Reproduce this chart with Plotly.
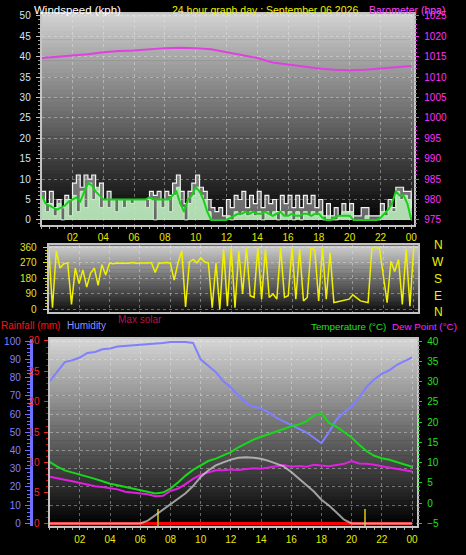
import plotly.graph_objects as go

W, H = 466, 555

# ---------------- data ----------------
hours_q = [i * 0.25 for i in range(97)]   # 15-minute samples, top & middle panels
hours_h = [i * 0.5 for i in range(49)]    # 30-minute samples, bottom panel
hours_1 = [float(i) for i in range(25)]   # hourly barometer

wind_gust = [7, 4, 7, 3, 5, 3, 6, 5,
             9, 11, 8, 11, 10, 11, 7, 9,
             5, 7, 5, 5, 5, 5, 5, 5,
             5, 5, 5, 5, 7, 6, 7, 5,
             7, 6, 9, 11, 7, 4, 7, 9,
             11, 8, 7, 5, 3, 2, 3, 1,
             5, 3, 6, 5, 7, 3, 6, 4,
             7, 3, 6, 4, 5, 2, 6, 4,
             6, 3, 6, 3, 6, 4, 6, 3,
             5, 1, 4, 1, 3, 1, 4, 2,
             4, 1, 1, 3, 3, 1, 1, 1,
             4, 2, 5, 3, 8, 8, 7, 7,
             3]

wind_speed = [5, 2, 4, 1, 4, 0, 5, 1,
              6, 2, 7, 3, 9, 5, 8, 3,
              5, 3, 5, 2, 5, 3, 5, 4,
              5, 5, 5, 3, 5, 0, 5, 3,
              5, 2, 6, 8, 3, 0, 4, 6,
              8, 6, 5, 2, 0, 0, 0, 0,
              1, 0, 2, 1, 2, 1, 2, 1,
              2, 0, 2, 1, 2, 0, 2, 1,
              2, 0, 2, 0, 2, 1, 2, 1,
              2, 0, 1, 0, 0, 1, 2, 2,
              2, 0, 0, 0, 1, 0, 0, 0,
              2, 1, 3, 2, 7, 5, 6, 5,
              0]

wind_avg = [6, 4, 3.5, 3, 2.5, 3, 3.5, 4.5,
            5, 5.5, 4.5, 7, 9, 8.5, 7, 6,
            5, 5, 5, 5, 5, 5, 5, 5,
            5, 5, 5, 5, 5.5, 5, 5, 5,
            5, 5, 6, 7, 4, 2, 5, 6,
            8, 7, 5, 2, 0, 0, 0, 0,
            0, 0.5, 1, 1.5, 1.5, 2, 1.5, 2,
            1.5, 1.5, 2, 1.5, 1, 1.5, 2, 1,
            1, 1.5, 1, 1, 1.5, 1.5, 1, 1.5,
            1.5, 0.5, 0, 0, 0.5, 1, 1, 1,
            1, 0, 0, 0, 0, 0, 0, 0,
            0.5, 1.5, 2.5, 4, 7, 6, 6, 4,
            0]

barometer = [1014.7, 1015.0, 1015.2, 1015.6, 1016.1, 1016.4, 1016.5, 1016.8,
             1017.1, 1017.2, 1017.1, 1016.8, 1016.1, 1015.3, 1014.7, 1013.6,
             1013.1, 1012.7, 1012.1, 1011.8, 1011.7, 1011.8, 1012.1, 1012.4,
             1012.7]

wind_dir = [360, 10, 340, 240, 265, 270, 30, 240,
            150, 230, 130, 210, 240, 140, 260, 200,
            270, 265, 270, 268, 270, 268, 272, 268,
            270, 268, 270, 272, 215, 268, 270, 272,
            268, 170, 270, 340, 15, 275, 290, 270,
            300, 275, 270, 10, 270, 0, 350, 20,
            360, 10, 340, 90, 360, 80, 70, 360,
            60, 350, 70, 90, 60, 360, 70, 80,
            360, 60, 350, 50, 70, 360, 340, 50,
            360, 60, 330, 40, 45, 50, 55, 60,
            85, 70, 50, 45, 40, 355, 360, 355,
            200, 40, 280, 220, 290, 30, 350, 20,
            360]

temperature = [10.2, 9.0, 8.1, 7.6, 7.1, 6.6, 6.0, 5.4,
               4.8, 4.4, 4.0, 3.7, 3.3, 2.9, 2.4, 2.6,
               3.6, 5.1, 6.8, 8.2, 9.4, 10.4, 11.0, 11.8,
               12.6, 13.8, 14.8, 15.7, 16.4, 17.0, 17.6, 18.3,
               19.0, 19.4, 20.2, 21.6, 22.2, 19.8, 18.9, 17.6,
               16.2, 14.4, 12.8, 11.7, 11.1, 10.7, 10.1, 9.5,
               9.0]

dew_point = [6.5, 6.2, 5.8, 5.4, 5.0, 4.6, 4.2, 4.0,
             3.7, 3.4, 2.8, 2.6, 2.4, 2.2, 1.7, 1.8,
             3.0, 3.6, 4.7, 6.0, 7.0, 7.6, 8.1, 8.1,
             8.3, 8.2, 8.4, 8.6, 8.5, 8.8, 9.0, 9.4,
             9.0, 9.2, 9.0, 9.5, 9.3, 9.1, 9.4, 9.7,
             10.4, 9.8, 9.7, 9.5, 9.1, 8.8, 8.5, 8.2,
             7.8]

humidity = [78, 83, 88.5, 89.5, 91, 93.5, 94, 95.5,
            96, 97, 97.3, 97.6, 98, 98.5, 98.8, 99,
            99.5, 99.5, 99.5, 99, 90, 86.5, 83, 78,
            74.5, 70, 66, 64, 63, 61, 58, 56,
            54, 52, 50, 47, 44, 50, 57, 61,
            64, 69, 75, 79, 82, 84, 87, 89,
            91]

max_solar = [0, 0, 0, 0, 0, 0, 0, 0,
             0, 0, 0, 0, 0, 15, 45, 80,
             110, 140, 165, 205, 255, 290, 318, 335,
             350, 360, 363, 360, 355, 343, 330, 313,
             282, 248, 210, 175, 130, 98, 60, 20,
             0, 0, 0, 0, 0, 0, 0, 0,
             0]

rainfall = [0, 0, 0, 0, 0, 0, 0, 0,
            0, 0, 0, 0, 0, 0, 0, 0,
            0, 0, 0, 0, 0, 0, 0, 0,
            0, 0, 0, 0, 0, 0, 0, 0,
            0, 0, 0, 0, 0, 0, 0, 0,
            0, 0, 0, 0, 0, 0, 0, 0,
            0]

sun_marks_h = [7.2, 20.9]
sun_marks_v = [97, 97]

hour_ticks = [2, 4, 6, 8, 10, 12, 14, 16, 18, 20, 22, 24]
hour_text = ["02", "04", "06", "08", "10", "12", "14", "16", "18", "20", "22", "00"]
wind_ticks = [0, 5, 10, 15, 20, 25, 30, 35, 40, 45, 50]
baro_ticks = [975, 980, 985, 990, 995, 1000, 1005, 1010, 1015, 1020, 1025]
dir_ticks = [0, 90, 180, 270, 360]
rain_ticks = [0, 5, 10, 15, 20, 25, 30]
hum_ticks = [0, 10, 20, 30, 40, 50, 60, 70, 80, 90, 100]
temp_ticks = [-5, 0, 5, 10, 15, 20, 25, 30, 35, 40]

# ---------------- styling ----------------
FONT = "Liberation Sans"
YEL = "#e8e800"
MAG = "#ff30ff"
GRID = "rgba(235,235,235,0.40)"
FRAME = "#c4c4c4"


def px_x(x):
    return x / W


def px_y(y):
    return 1 - y / H


def gradient(y_top, y_bot, x0, x1, c_top, c_bot, n=50):
    out = []
    for k in range(n):
        f = k / (n - 1)
        c = [round(c_top[j] + (c_bot[j] - c_top[j]) * f) for j in range(3)]
        ya = y_top + (y_bot - y_top) * k / n
        yb = y_top + (y_bot - y_top) * (k + 1) / n + 0.6
        out.append(dict(type="rect", xref="paper", yref="paper",
                        x0=px_x(x0), x1=px_x(x1), y0=px_y(min(yb, y_bot)), y1=px_y(ya),
                        fillcolor=f"rgb({c[0]},{c[1]},{c[2]})", line=dict(width=0),
                        layer="below"))
    return out


shapes = []
shapes += gradient(10, 224, 42, 417, (208, 208, 208), (0, 0, 0))
shapes += gradient(245, 312, 49, 421, (205, 205, 205), (18, 18, 18))
shapes += gradient(340, 530, 50, 420, (212, 212, 212), (0, 0, 0))

fig = go.Figure()

# ---- top panel ----
fig.add_trace(go.Scatter(x=hours_q, y=wind_gust, mode="lines", fill="tozeroy",
                         fillcolor="rgba(225,225,225,0.45)",
                         line=dict(color="#f4f4f4", width=1.2, shape="hv"),
                         xaxis="x", yaxis="y", hoverinfo="skip"))
fig.add_trace(go.Scatter(x=hours_q, y=wind_speed, mode="lines", fill="tozeroy",
                         fillcolor="rgba(190,240,190,0.85)", line=dict(color="#c8f5c8", width=1, shape="hv"),
                         xaxis="x", yaxis="y", hoverinfo="skip"))
fig.add_trace(go.Scatter(x=hours_q, y=wind_avg, mode="lines", line=dict(color="#18d018", width=2),
                         xaxis="x", yaxis="y", hoverinfo="skip"))
fig.add_trace(go.Scatter(x=hours_1, y=barometer, mode="lines", line=dict(color="#e040e0", width=2),
                         xaxis="x", yaxis="y2", hoverinfo="skip"))

# ---- middle panel ----
fig.add_trace(go.Scatter(x=hours_q, y=wind_dir, mode="lines", line=dict(color="#f0f000", width=1.5),
                         xaxis="x2", yaxis="y3", hoverinfo="skip"))

# ---- bottom panel ----
fig.add_trace(go.Scatter(x=hours_h, y=rainfall, mode="lines", line=dict(color="#ff0000", width=3),
                         xaxis="x3", yaxis="y4", hoverinfo="skip"))
fig.add_trace(go.Bar(x=sun_marks_h, y=sun_marks_v, base=[-16, -16], width=0.13,
                     marker=dict(color="#a89a10", line=dict(width=0)),
                     xaxis="x3", yaxis="y7", hoverinfo="skip"))
fig.add_trace(go.Scatter(x=hours_h, y=max_solar, mode="lines", line=dict(color="rgba(215,215,215,0.7)", width=2),
                         xaxis="x3", yaxis="y7", hoverinfo="skip"))
fig.add_trace(go.Scatter(x=hours_h, y=humidity, mode="lines", line=dict(color="#7f7fff", width=2),
                         xaxis="x3", yaxis="y5", hoverinfo="skip"))
fig.add_trace(go.Scatter(x=hours_h, y=temperature, mode="lines", line=dict(color="#18d818", width=2),
                         xaxis="x3", yaxis="y6", hoverinfo="skip"))
fig.add_trace(go.Scatter(x=hours_h, y=dew_point, mode="lines", line=dict(color="#e020e0", width=2),
                         xaxis="x3", yaxis="y6", hoverinfo="skip"))

common_x = dict(tickvals=hour_ticks, showgrid=True, gridcolor=GRID, griddash="dot", gridwidth=1,
                zeroline=False, showline=True, linecolor=FRAME, linewidth=2, mirror=True, ticks="",
                fixedrange=True)

annotations = []


def label(text, x, y, color, size=10, anchor="left"):
    annotations.append(dict(text=text, x=px_x(x), y=px_y(y), xref="paper", yref="paper",
                            xanchor=anchor, yanchor="middle", showarrow=False, borderpad=0,
                            font=dict(family=FONT, size=size, color=color)))


label("Windspeed (kph)", 33, 6, "#ffffff", 11.5)
label("24 hour graph day : September 06 2026", 172, 6, "#f0f000", 10.5)
label("Barometer (hpa)", 370, 6, "#ff40ff", 10.5)
label("Rainfall (mm)", 0, 326, "#ff1010", 10)
label("Humidity", 66, 326, "#9090ff", 10)
label("Max solar", 118, 320, "#c01040", 10)
label("Temperature (°C)", 312, 327, "#20e020", 9.8)
label("Dew Point (°C)", 394, 327, "#ff20ff", 9.8)
for t, yy in zip(["N", "W", "S", "E", "N"], [245, 262, 279, 296, 312]):
    label(t, 441, yy, "#f0f000", 12, "center")

fig.update_layout(
    width=W, height=H, margin=dict(l=0, r=0, t=0, b=0),
    paper_bgcolor="#000000", plot_bgcolor="rgba(0,0,0,0)",
    showlegend=False, bargap=0, barmode="overlay",
    font=dict(family=FONT, size=10),
    shapes=shapes, annotations=annotations,
    xaxis=dict(domain=[px_x(42), px_x(417)], anchor="y", range=[0, 24.2],
               ticktext=hour_text, tickfont=dict(color=YEL, size=10), ticklabelstandoff=2,
               minor=dict(ticks="outside", dtick=0.5, ticklen=2, tickcolor="#b0b0b0", showgrid=False),
               **common_x),
    yaxis=dict(domain=[px_y(224), px_y(10)], anchor="x", range=[-1.2, 50.5],
               tickvals=wind_ticks, tickfont=dict(color="#cfe6ff", size=10),
               ticks="outside", ticklen=4, tickcolor="#c0c0c0", ticklabelstandoff=3,
               minor=dict(ticks="outside", dtick=1, ticklen=2, tickcolor="#a0a0a0", showgrid=False),
               showgrid=True, gridcolor=GRID, griddash="dot", zeroline=False,
               showline=True, linecolor=FRAME, linewidth=2, mirror=True, fixedrange=True),
    yaxis2=dict(overlaying="y", anchor="x", side="right", range=[973.8, 1025.5],
                tickvals=baro_ticks, tickfont=dict(color=MAG, size=10),
                ticks="outside", ticklen=4, tickcolor=MAG, ticklabelstandoff=3,
                minor=dict(ticks="outside", dtick=1, ticklen=2, tickcolor=MAG, showgrid=False),
                showgrid=False, zeroline=False, showline=False, fixedrange=True),
    xaxis2=dict(domain=[px_x(49), px_x(421)], anchor="y3", range=[0, 24.3],
                showticklabels=False, **common_x),
    yaxis3=dict(domain=[px_y(312), px_y(245)], anchor="x2", range=[-11.4, 371],
                tickvals=dir_ticks, tickfont=dict(color="#e0e030", size=10),
                ticks="outside", ticklen=4, tickcolor="#d8d820", ticklabelstandoff=4,
                minor=dict(ticks="outside", dtick=18, ticklen=2, tickcolor="#c8c820", showgrid=False),
                showgrid=True, gridcolor=GRID, griddash="dot", zeroline=False,
                showline=True, linecolor=FRAME, linewidth=2, mirror=True, fixedrange=True),
    xaxis3=dict(domain=[px_x(50), px_x(420)], anchor="y4", range=[0, 24.35],
                ticktext=hour_text, tickfont=dict(color=YEL, size=10), ticklabelstandoff=3,
                minor=dict(ticks="outside", dtick=0.5, ticklen=2, tickcolor="#b0b0b0", showgrid=False),
                **common_x),
    yaxis4=dict(domain=[px_y(530), px_y(340)], anchor="x3", range=[-0.49, 30.3],
                tickvals=rain_ticks, tickfont=dict(color="#ff2020", size=10),
                ticks="outside", ticklen=4, tickcolor="#ff2020", ticklabelstandoff=2,
                minor=dict(ticks="outside", dtick=1, ticklen=2, tickcolor="#d01010", showgrid=False),
                showgrid=False, zeroline=False,
                showline=True, linecolor=FRAME, linewidth=2, mirror=True, fixedrange=True),
    yaxis5=dict(overlaying="y4", anchor="free", position=px_x(31), side="left", range=[-1.62, 101.1],
                tickvals=hum_ticks, tickfont=dict(color="#8080ff", size=10),
                ticks="outside", ticklen=5, tickcolor="#7070ff", ticklabelstandoff=2,
                minor=dict(ticks="outside", dtick=2, ticklen=3, tickcolor="#7070ff", showgrid=False),
                showgrid=True, gridcolor=GRID, griddash="dot", zeroline=False,
                showline=True, linecolor="#7070ff", linewidth=3, fixedrange=True),
    yaxis6=dict(overlaying="y4", anchor="x3", side="right", range=[-5.73, 40.5],
                tickvals=temp_ticks, tickfont=dict(color="#20e020", size=10),
                ticks="outside", ticklen=4, tickcolor="#20d020", ticklabelstandoff=3,
                minor=dict(ticks="outside", dtick=1, ticklen=2, tickcolor="#20c020", showgrid=False),
                showgrid=False, zeroline=False, showline=False, fixedrange=True),
    yaxis7=dict(overlaying="y4", anchor="x3", range=[-16.2, 1010.8], visible=False, fixedrange=True),
)

fig.write_html("out.html", config={"displayModeBar": False, "staticPlot": True},
               post_script="document.body.style.margin='0';document.body.style.overflow='hidden';")
